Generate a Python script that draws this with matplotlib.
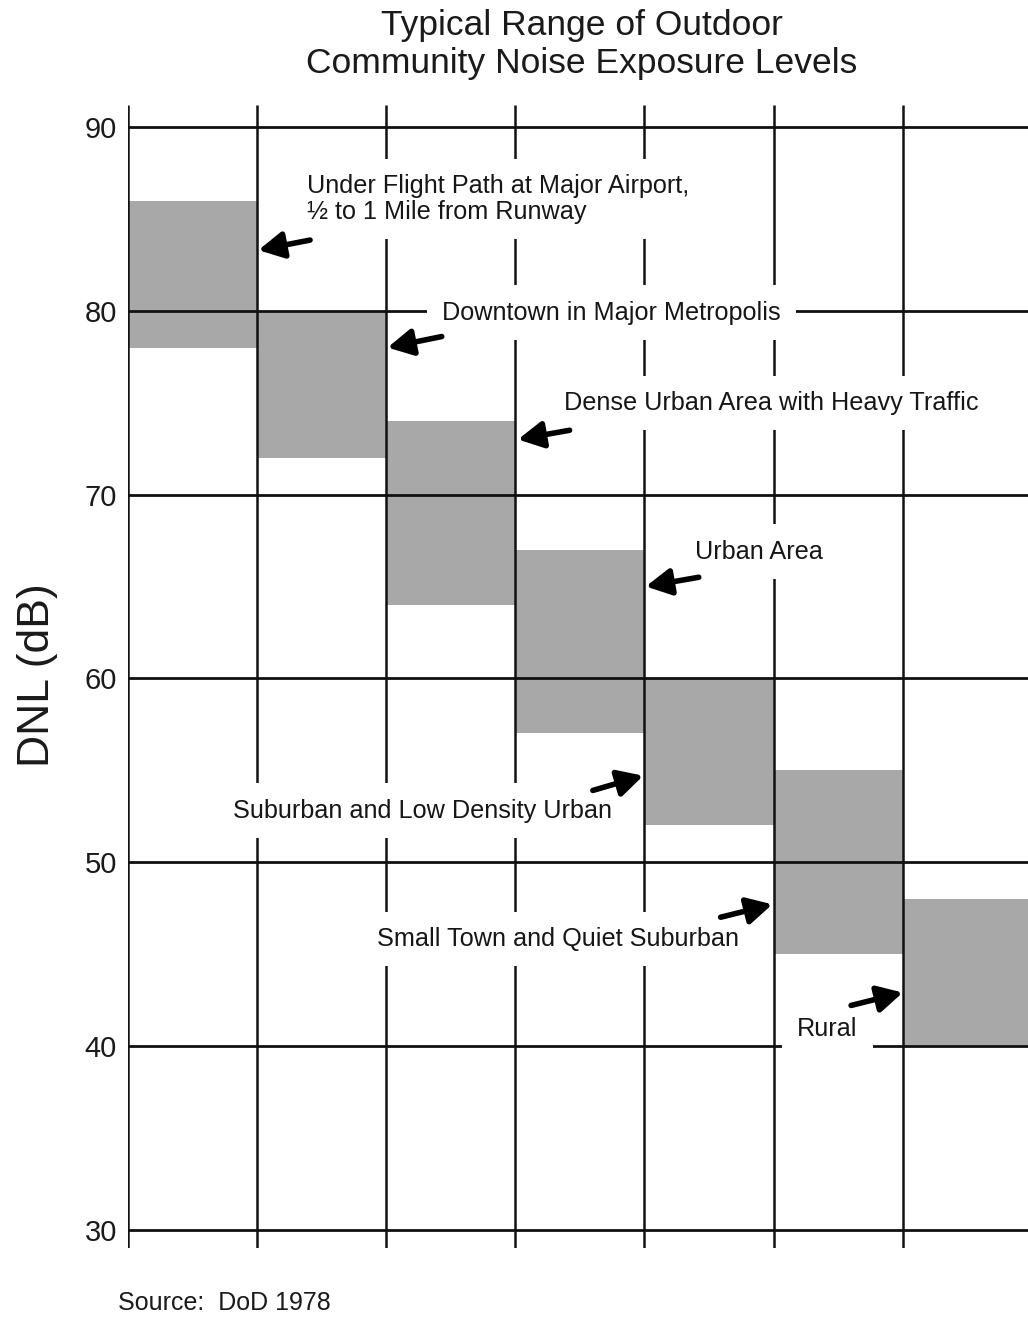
import matplotlib
matplotlib.use("Agg")
import matplotlib.pyplot as plt

# ---- data ----
categories = [
    "Under Flight Path at Major Airport,\n\u00bd to 1 Mile from Runway",
    "Downtown in Major Metropolis",
    "Dense Urban Area with Heavy Traffic",
    "Urban Area",
    "Suburban and Low Density Urban",
    "Small Town and Quiet Suburban",
    "Rural",
]
low_db = [78, 72, 64, 57, 52, 45, 40]
high_db = [86, 80, 74, 67, 60, 55, 48]
y_ticks = [30, 40, 50, 60, 70, 80, 90]

# ---- layout (label text positions and arrow tails/heads in data coords) ----
label_pos = [(1.39, 86.1), (2.43, 79.9), (3.38, 75.0), (4.39, 66.9),
             (0.81, 52.8), (1.93, 45.8), (5.18, 40.9)]
arrow_tail = [(1.41, 83.85), (2.43, 78.6), (3.42, 73.5), (4.42, 65.5),
              (3.60, 53.9), (4.59, 47.0), (5.60, 42.2)]
arrow_head = [(1.01, 83.3), (2.01, 78.0), (3.02, 73.0), (4.01, 65.0),
              (3.99, 54.7), (4.99, 47.7), (6.00, 42.9)]

plt.rcParams['font.family'] = ['Liberation Sans', 'DejaVu Sans']

W, H = 1028, 1317
fig = plt.figure(figsize=(W / 100, H / 100), dpi=100)
fig.patch.set_facecolor('white')

top_px, bot_px = 105, 1248
ax = fig.add_axes([128 / W, (H - bot_px) / H, 1 - 128 / W, (bot_px - top_px) / H])
ax.set_xlim(0, 6.97)
ax.set_ylim(29.0, 91.2)
for s in ax.spines.values():
    s.set_visible(False)

n = len(categories)
xs = list(range(n))
ax.bar(xs, [h - l for h, l in zip(high_db, low_db)], bottom=low_db, width=1.0,
       align='edge', color='#a8a8a8', edgecolor='none', zorder=1)

ax.hlines(y_ticks, 0, 6.97, color='#111111', lw=2.0, zorder=2)
ax.vlines(range(n), 29.0, 91.2, color='#111111', lw=1.8, zorder=2)

ax.set_yticks(y_ticks)
ax.set_yticklabels([str(v) for v in y_ticks], fontsize=21, color='#1a1a1a')
ax.tick_params(axis='y', length=0, pad=8)
ax.set_xticks([])

for cat, (tx, ty) in zip(categories, label_pos):
    ax.text(tx, ty, cat, fontsize=18.2, ha='left', va='center', color='#161616',
            linespacing=1.1, zorder=4,
            bbox=dict(boxstyle='square,pad=0.6', facecolor='white', edgecolor='none'))

for (hx, hy), (tx, ty) in zip(arrow_head, arrow_tail):
    ax.annotate('', xy=(hx, hy), xytext=(tx, ty), zorder=5,
                arrowprops=dict(arrowstyle='-|>,head_length=0.75,head_width=0.4',
                                color='black', lw=4.0, shrinkA=0, shrinkB=0,
                                mutation_scale=20))

fig.text(582 / W, 1 - 25 / H, "Typical Range of Outdoor",
         ha='center', va='center', fontsize=25.5, color='#1a1a1a')
fig.text(582 / W, 1 - 63 / H, "Community Noise Exposure Levels",
         ha='center', va='center', fontsize=25.5, color='#1a1a1a')
fig.text(38 / W, 1 - 675 / H, "DNL (dB)", rotation=90, ha='center', va='center',
         fontsize=32, color='#1a1a1a')
fig.text(118 / W, 1 - 1303 / H, "Source:  DoD 1978", ha='left', va='center',
         fontsize=18, color='#1a1a1a')

fig.savefig("out.png", dpi=100)
